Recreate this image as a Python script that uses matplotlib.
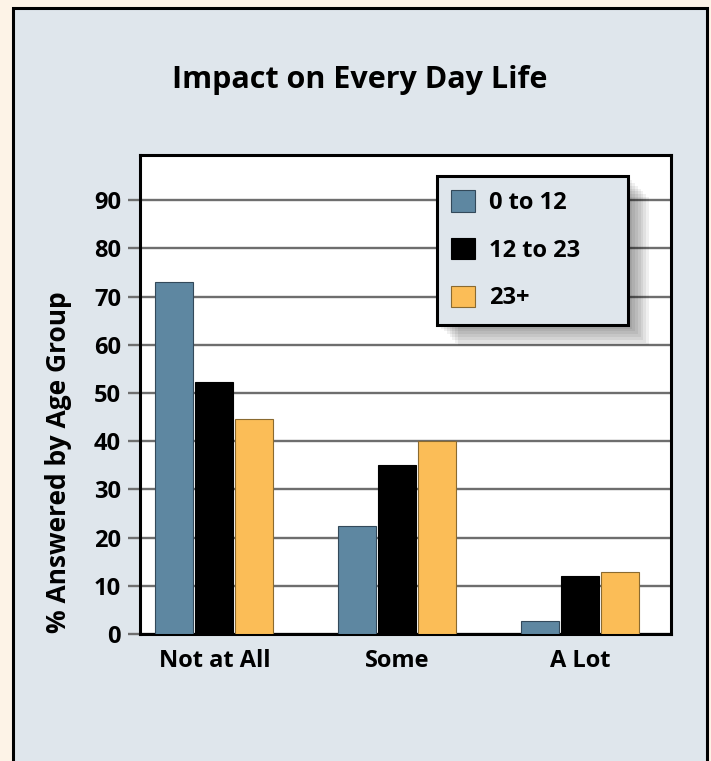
import numpy as np
import matplotlib.pyplot as plt
from matplotlib.patches import Rectangle
import matplotlib.patheffects as pe

# ===============================
# Data
# ===============================

categories = ["Not at All", "Some", "A Lot"]
groups = ["0 to 12", "12 to 23", "23+"]
age_0_12 = [73.0, 22.5, 2.8]
age_12_23 = [52.3, 35.0, 12.1]
age_23_plus = [44.6, 40.1, 12.9]

series = [age_0_12, age_12_23, age_23_plus]
colors = ["#5e87a1", "#000000", "#fbbd57"]
edges = ["#33495a", "#000000", "#8a6a30"]

plt.rcParams["font.family"] = ["Open Sans", "DejaVu Sans"]
plt.rcParams["font.weight"] = "bold"

W, H = 711, 761
fig = plt.figure(figsize=(W / 100, H / 100), dpi=100, facecolor="#fdf3e7")

# inner light panel with black border
panel = Rectangle((12.5 / W, -0.05), (707 - 12.5) / W, 1.05 - 8.5 / H,
                  transform=fig.transFigure, facecolor="#dfe6ec",
                  edgecolor="black", linewidth=2.2, zorder=-10)
fig.patches.append(panel)

ax = fig.add_axes([140 / W, 1 - 634 / H, (671 - 140) / W, (634 - 155) / H])
ax.set_facecolor("white")

x = np.arange(len(categories))
width = 0.208
step = 0.219
for i, (vals, c, ec, lab) in enumerate(zip(series, colors, edges, groups)):
    ax.bar(x + (i - 1) * step, vals, width, color=c, edgecolor=ec,
           linewidth=0.8, label=lab, zorder=3)

ax.set_xlim(-0.407, 2.498)
ax.set_ylim(0, 99.4)
ax.set_yticks(np.arange(0, 100, 10))
ax.set_xticks(x)
ax.set_xticklabels(categories)
ax.yaxis.grid(True, color="#6e6e6e", linewidth=1.7)
ax.set_axisbelow(True)
ax.tick_params(axis="y", length=8.6, width=1.7, color="#6e6e6e",
               labelsize=17, pad=5)
ax.tick_params(axis="x", length=0, labelsize=17, pad=11)
for s in ax.spines.values():
    s.set_linewidth(2.2)
    s.set_color("black")

ax.set_ylabel("% Answered by Age Group", fontsize=19, fontweight="bold")
ax.yaxis.set_label_coords(-(140 - 72) / (671 - 140), (634 - 462) / (634 - 155))

fig.text(360 / W, 1 - 80 / H, "Impact on Every Day Life", fontsize=22,
         fontweight="bold", ha="center", va="center")

# legend stretched to the boxed width of the original
lx0 = (437 - 140) / (671 - 140)
lx1 = (628 - 140) / (671 - 140)
ly1 = (634 - 176) / (634 - 155)
leg = ax.legend(loc="upper left", bbox_to_anchor=(lx0, ly1 - 0.3, lx1 - lx0, 0.3),
                mode="expand", borderaxespad=0, fontsize=17, frameon=True,
                fancybox=False, facecolor="#dfe6ec", edgecolor="black",
                framealpha=1, handlelength=1.02, handleheight=1.02,
                handletextpad=0.6, borderpad=0.6, labelspacing=0.97)
leg.get_frame().set_linewidth(2.2)
shadow = [pe.SimplePatchShadow(offset=(d, -d), shadow_rgbFace="black",
                               alpha=0.06) for d in (3, 5, 7, 9, 11, 13, 15)]
leg.get_frame().set_path_effects(shadow + [pe.Normal()])
leg.set_zorder(5)

fig.savefig("out.png", dpi=100, facecolor=fig.get_facecolor())
